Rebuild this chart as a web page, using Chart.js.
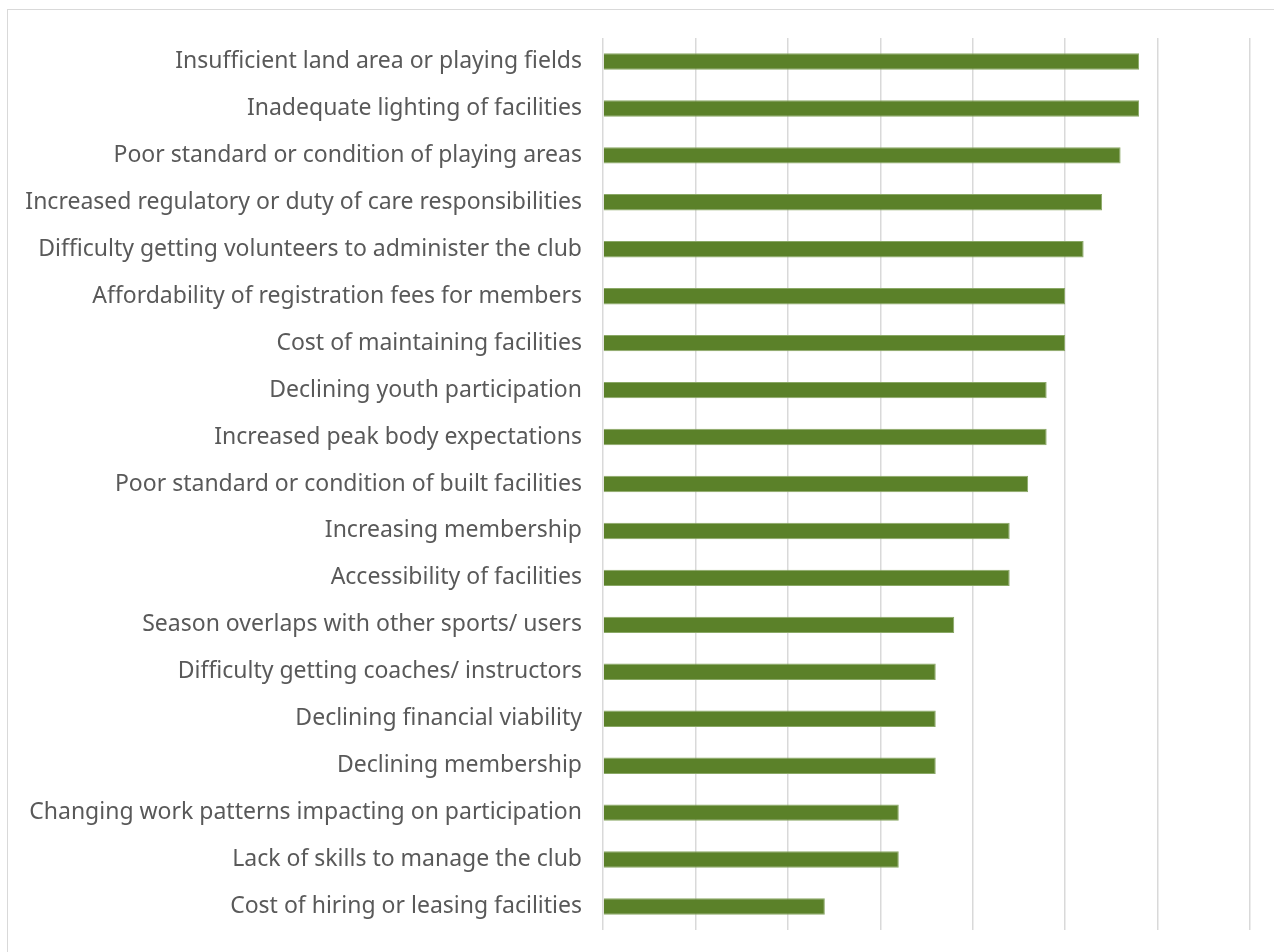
<!DOCTYPE html>
<html>
<head>
<meta charset="utf-8">
<title>Club issues</title>
<script src="https://cdn.jsdelivr.net/npm/chart.js@4/dist/chart.umd.min.js"></script>
<style>
  html, body { margin: 0; padding: 0; background: #fff; overflow: hidden; }
  #wrap { position: relative; width: 1274px; height: 952px; }
  #frame { position: absolute; left: 7px; top: 9px; width: 1290px; height: 970px; border: 1px solid #d9d9d9; }
  #statsChart { position: absolute; left: 0; top: 0; }
</style>
</head>
<body>
<div id="wrap">
  <div id="frame"></div>
  <canvas id="statsChart" width="1274" height="952"></canvas>
</div>
<script>
let categories = [
    "Insufficient land area or playing fields",
    "Inadequate lighting of facilities",
    "Poor standard or condition of playing areas",
    "Increased regulatory or duty of care responsibilities",
    "Difficulty getting volunteers to administer the club",
    "Affordability of registration fees for members",
    "Cost of maintaining facilities",
    "Declining youth participation",
    "Increased peak body expectations",
    "Poor standard or condition of built facilities",
    "Increasing membership",
    "Accessibility of facilities",
    "Season overlaps with other sports/ users",
    "Difficulty getting coaches/ instructors",
    "Declining financial viability",
    "Declining membership",
    "Changing work patterns impacting on participation",
    "Lack of skills to manage the club",
    "Cost of hiring or leasing facilities"
];

let values = [29, 29, 28, 27, 26, 25, 25, 24, 24, 23, 22, 22, 19, 18, 18, 18, 16, 16, 12];

let axisMin = 0;
let axisMax = 35;
let axisStep = 5;

// size the label font so the longest label fills the space left of the plot
var labelFamily = '"Noto Sans"';
var measure = document.createElement('canvas').getContext('2d');
measure.font = '20px ' + labelFamily;
var longest = Math.max.apply(null, categories.map(c => measure.measureText(c).width));
var labelSize = Math.round(20 * 557 / longest * 10) / 10;

var ctx = document.getElementById('statsChart').getContext('2d');
var statsChart = new Chart(ctx, {
    type: 'bar',
    data: {
        labels: categories,
        datasets: [{
            data: values,
            backgroundColor: '#5b8129',
            borderColor: '#8aa866',
            borderWidth: 1,
            borderSkipped: 'start',
            barPercentage: 0.35,
            categoryPercentage: 1
        }]
    },
    options: {
        indexAxis: 'y',
        responsive: false,
        animation: false,
        layout: {
            padding: { left: 0, top: 38, right: 24, bottom: 22 }
        },
        plugins: {
            legend: { display: false },
            tooltip: { enabled: false }
        },
        scales: {
            x: {
                min: axisMin,
                max: axisMax,
                ticks: { stepSize: axisStep, display: false },
                grid: { color: '#d9d9d9', lineWidth: 1.5, drawTicks: false },
                border: { display: false },
                afterFit: function(scale) {
                    scale.height = 0;
                }
            },
            y: {
                grid: { display: false, drawTicks: false },
                border: { display: false },
                ticks: {
                    color: '#595959',
                    padding: 21,
                    font: { family: labelFamily, size: labelSize }
                },
                afterFit: function(scale) {
                    scale.width = 603;
                    // labels sit well inside the bands, no extra room needed
                    scale.paddingTop = 0;
                    scale.paddingBottom = 0;
                }
            }
        }
    }
});
</script>
</body>
</html>
